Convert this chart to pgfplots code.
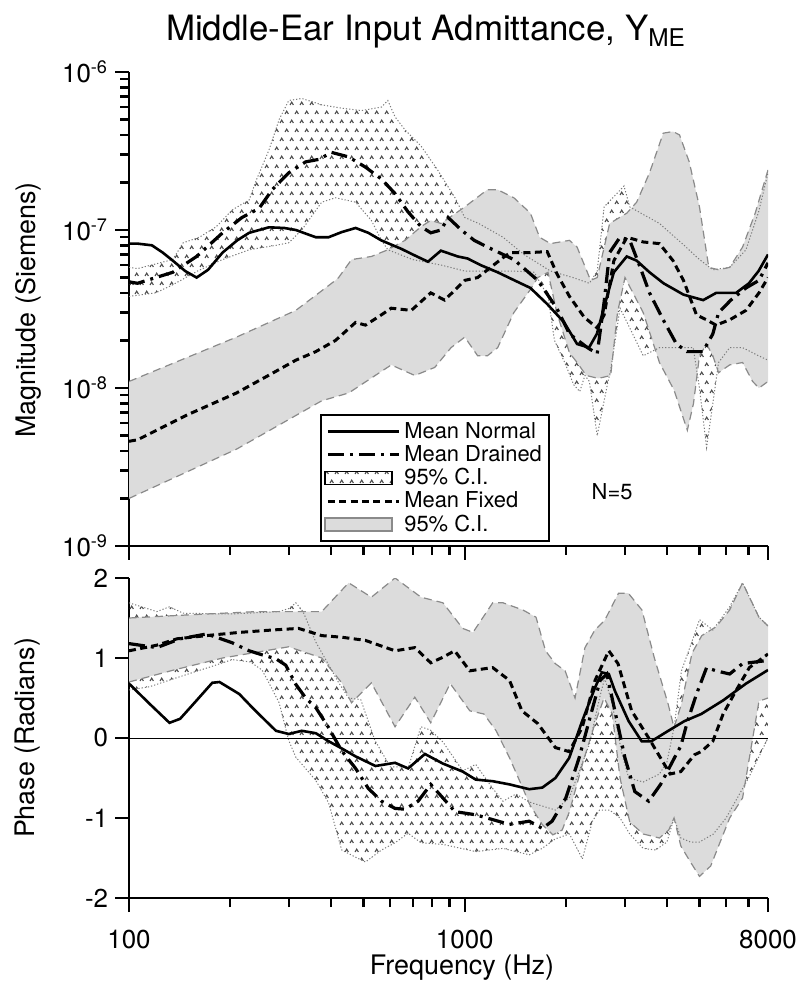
\documentclass[border=0pt]{standalone}
\usepackage{fontspec}
\setmainfont{TeX Gyre Heros}
\usepackage{pgfplots}
\pgfplotsset{compat=1.18}
\usepackage{pgfplotstable}
\usepgfplotslibrary{fillbetween}
\usetikzlibrary{patterns}

\definecolor{graybg}{HTML}{DCDCDC}
\definecolor{grayedge}{HTML}{8A8A8A}
\definecolor{dotedge}{HTML}{7A7A7A}

\pgfdeclarepatternformonly{carets}{\pgfqpoint{-0.5bp}{-0.5bp}}{\pgfqpoint{5.5bp}{9.5bp}}{\pgfqpoint{5bp}{9bp}}{%
  \pgfsetlinewidth{0.55bp}%
  \pgfpathmoveto{\pgfqpoint{0bp}{0bp}}\pgfpathlineto{\pgfqpoint{0.85bp}{1.4bp}}\pgfpathlineto{\pgfqpoint{1.7bp}{0bp}}%
  \pgfpathmoveto{\pgfqpoint{2.5bp}{4.5bp}}\pgfpathlineto{\pgfqpoint{3.35bp}{5.9bp}}\pgfpathlineto{\pgfqpoint{4.2bp}{4.5bp}}%
  \pgfusepath{stroke}%
}

\tikzset{
  meanN/.style={black, line width=1.3bp, solid},
  meanD/.style={black, line width=1.6bp, dash pattern=on 8bp off 3bp on 1.5bp off 3bp},
  meanF/.style={black, line width=1.5bp, dash pattern=on 3.5bp off 2.2bp},
  grayline/.style={grayedge, line width=0.6bp, dash pattern=on 4bp off 2.5bp},
  dotline/.style={dotedge, line width=0.5bp, dash pattern=on 0.6bp off 1bp},
}

% ---------- magnitude data ----------
\pgfplotstableread{
x y
100 8.2e-8
106 8.2e-8
117 8.0e-8
126 7.2e-8
135 6.4e-8
147 5.5e-8
159 5.0e-8
172 5.6e-8
190 7.2e-8
210 8.6e-8
228 9.6e-8
261 1.04e-7
290 1.03e-7
314 1.0e-7
340 9.4e-8
360 9.0e-8
393 9.0e-8
430 9.7e-8
473 1.03e-7
516 9.6e-8
564 8.6e-8
647 7.6e-8
700 7.0e-8
777 6.3e-8
849 7.4e-8
953 6.8e-8
1020 6.6e-8
1114 6.0e-8
1253 5.4e-8
1406 4.8e-8
1568 4.3e-8
1760 3.4e-8
1977 2.6e-8
2160 1.9e-8
2344 1.8e-8
2474 2.2e-8
2594 3.2e-8
2779 5.4e-8
3037 6.8e-8
3250 6.4e-8
3550 5.4e-8
3908 4.6e-8
4480 3.9e-8
5130 3.6e-8
5608 4.0e-8
6430 4.0e-8
7020 4.6e-8
7500 5.5e-8
8000 7.0e-8
}\magN

\pgfplotstableread{
x y
100 4.7e-8
106 4.6e-8
135 5.4e-8
159 6.8e-8
190 9.6e-8
217 1.2e-7
244 1.37e-7
267 1.8e-7
299 2.3e-7
336 2.7e-7
368 2.8e-7
401 3.1e-7
451 2.9e-7
506 2.5e-7
565 2.1e-7
620 1.7e-7
678 1.3e-7
741 1.05e-7
792 9.6e-8
850 1.0e-7
892 1.2e-7
977 1.0e-7
1067 8.6e-8
1168 7.8e-8
1400 6.5e-8
1650 4.8e-8
1880 3.2e-8
2050 2.2e-8
2320 1.8e-8
2480 1.65e-8
2600 3.5e-8
2700 7.2e-8
2900 9.0e-8
3100 8.6e-8
3330 5.8e-8
3550 4.0e-8
3900 2.7e-8
4270 1.9e-8
4590 1.7e-8
5120 1.7e-8
5480 2.2e-8
5700 3.0e-8
6200 3.6e-8
6880 4.3e-8
7520 4.8e-8
8000 6.2e-8
}\magD

\pgfplotstableread{
x y
100 4.6e-9
106 4.7e-9
150 6.8e-9
209 9.3e-9
260 1.2e-8
314 1.5e-8
360 1.7e-8
412 2.0e-8
473 2.6e-8
506 2.5e-8
550 2.8e-8
604 3.2e-8
693 3.1e-8
792 4.0e-8
871 3.6e-8
1000 4.8e-8
1092 5.0e-8
1194 5.8e-8
1314 6.8e-8
1370 7.2e-8
1568 7.2e-8
1760 7.3e-8
1880 5.3e-8
2050 3.8e-8
2270 2.8e-8
2480 2.4e-8
2600 2.9e-8
2780 6.4e-8
3040 9.0e-8
3400 8.4e-8
3800 8.2e-8
4170 6.4e-8
4480 4.8e-8
4900 2.9e-8
5250 2.7e-8
5600 2.5e-8
6150 2.7e-8
6880 3.1e-8
7520 4.0e-8
8000 5.0e-8
}\magF

\pgfplotstableread{
x y
100 5.8e-8
106 5.7e-8
135 6.5e-8
145 8.3e-8
162 9.0e-8
182 1.05e-7
203 1.34e-7
228 1.55e-7
239 2.05e-7
261 3.2e-7
280 5.0e-7
299 6.6e-7
327 6.8e-7
375 6.2e-7
430 5.9e-7
493 5.7e-7
565 6.0e-7
590 6.6e-7
620 5.2e-7
664 4.3e-7
741 3.4e-7
830 2.4e-7
935 1.6e-7
1000 1.2e-7
1100 1.1e-7
1300 9e-8
1500 7e-8
1800 5.5e-8
2100 5.0e-8
2350 4.6e-8
2480 5.5e-8
2600 1.4e-7
2980 1.9e-7
3100 1.4e-7
3300 1.3e-7
3800 1.1e-7
4500 8e-8
5000 6.5e-8
5480 5.6e-8
6150 5.8e-8
6880 7.5e-8
7500 1.3e-7
8000 2.3e-7
}\magDU

\pgfplotstableread{
x y
100 3.8e-8
120 4.0e-8
135 4.5e-8
160 5.5e-8
190 6.5e-8
228 7.5e-8
274 8.0e-8
299 8.3e-8
327 1.0e-7
375 1.5e-7
412 1.6e-7
473 1.5e-7
527 1.15e-7
565 8.6e-8
590 7.5e-8
700 6.5e-8
850 6e-8
1000 5.5e-8
1200 5.5e-8
1400 5.5e-8
1610 5.4e-8
1770 3.8e-8
1850 2.0e-8
1985 1.45e-8
2110 1.05e-8
2200 9.5e-9
2280 1.2e-8
2350 1.1e-8
2480 5.0e-9
2670 1.1e-8
2720 1.3e-8
2900 3.2e-8
3100 2.4e-8
3400 1.6e-8
3800 1.8e-8
4300 1.8e-8
4790 1.8e-8
5000 1.0e-8
5250 4.2e-9
5480 8e-9
5700 1.45e-8
6150 1.8e-8
6720 1.8e-8
7500 1.6e-8
8000 1.5e-8
}\magDL

\pgfplotstableread{
x y
100 1.1e-8
209 2.1e-8
314 3.1e-8
412 4.8e-8
421 5.0e-8
460 6.5e-8
527 6.8e-8
590 7.5e-8
664 8.6e-8
741 1.05e-7
792 1.15e-7
850 1.1e-7
1000 1.4e-7
1168 1.8e-7
1253 1.8e-7
1400 1.6e-7
1568 1.28e-7
1670 9e-8
1800 8.2e-8
2050 8.6e-8
2160 7.8e-8
2370 4.8e-8
2480 5.0e-8
2700 1.1e-7
3040 1.28e-7
3250 1.5e-7
3550 2.3e-7
3900 4.1e-7
4170 4.2e-7
4360 4.0e-7
4660 2.7e-7
5000 1.4e-7
5330 5.8e-8
5700 5.6e-8
6150 5.8e-8
6720 7.8e-8
7330 1.28e-7
8000 2.4e-7
}\magFU

\pgfplotstableread{
x y
100 2.0e-9
209 4.1e-9
375 8.3e-9
451 9.3e-9
604 1.4e-8
710 1.2e-8
814 1.35e-8
910 1.8e-8
1000 2.1e-8
1092 1.6e-8
1168 1.6e-8
1253 1.8e-8
1400 3.0e-8
1568 4.2e-8
1650 5.0e-8
1770 5.4e-8
1880 3.0e-8
2050 1.67e-8
2160 1.45e-8
2300 1.2e-8
2500 1.15e-8
2720 1.2e-8
2850 3.0e-8
3000 5.0e-8
3400 3.0e-8
3800 1.45e-8
4200 9.7e-9
4600 5.4e-9
4800 8e-9
5000 1.6e-8
5250 1.9e-8
5480 1.6e-8
5700 1.25e-8
6150 1.4e-8
6720 1.45e-8
7200 1.1e-8
7520 1.0e-8
8000 1.1e-8
}\magFL

% ---------- phase data ----------
\pgfplotstableread{
x y
100 0.68
115 0.43
132 0.19
142 0.24
159 0.47
177 0.69
186 0.70
213 0.55
233 0.38
256 0.21
274 0.09
299 0.05
327 0.09
360 0.06
393 -0.04
430 -0.13
473 -0.23
542 -0.35
620 -0.31
678 -0.38
761 -0.20
861 -0.32
986 -0.42
1078 -0.52
1211 -0.54
1359 -0.58
1556 -0.64
1702 -0.62
1862 -0.50
2046 -0.25
2236 0.21
2443 0.63
2560 0.82
2685 0.80
2799 0.59
3077 0.21
3363 -0.04
3597 -0.04
4038 0.09
4505 0.21
5061 0.30
5880 0.47
6880 0.68
8000 0.85
}\phN

\pgfplotstableread{
x y
100 1.18
121 1.13
142 1.24
170 1.30
182 1.26
203 1.19
228 1.09
249 1.04
274 0.99
293 0.91
314 0.67
336 0.50
360 0.38
393 0.13
430 -0.16
473 -0.38
516 -0.63
565 -0.79
620 -0.88
664 -0.89
726 -0.79
792 -0.58
861 -0.75
935 -0.92
1078 -0.96
1359 -1.08
1556 -1.04
1702 -1.13
1820 -1.04
2000 -0.75
2190 -0.25
2390 0.34
2530 0.72
2650 0.80
2799 0.34
3000 -0.25
3210 -0.67
3530 -0.79
3830 -0.58
4209 -0.25
4400 -0.10
4600 0.20
4900 0.55
5250 0.88
5600 0.84
6150 0.80
6720 0.93
8000 0.97
}\phD

\pgfplotstableread{
x y
100 1.09
121 1.16
139 1.24
170 1.28
213 1.32
267 1.35
320 1.37
375 1.28
430 1.26
506 1.22
620 1.09
710 1.13
792 0.94
861 1.01
933 1.09
1035 0.84
1211 0.88
1359 0.72
1480 0.34
1650 0.18
1862 -0.12
2046 -0.17
2236 0.13
2443 0.72
2685 1.09
2860 0.93
3140 0.34
3530 0.00
3830 -0.25
4090 -0.45
4400 -0.42
4830 -0.21
5061 -0.17
5480 -0.04
5880 0.30
6420 0.59
7040 0.88
8000 1.05
}\phF

\pgfplotstableread{
x y
100 1.69
121 1.58
132 1.64
145 1.56
200 1.55
280 1.58
300 1.62
314 1.69
330 1.58
360 1.20
420 0.70
451 0.50
490 0.48
540 -0.03
600 -0.36
680 -0.36
740 0.14
790 0.10
861 -0.05
986 -0.41
1078 -0.33
1211 -0.63
1300 -0.79
1420 -0.70
1556 -0.80
1700 -0.85
1862 -0.90
2046 -0.75
2350 -0.08
2520 0.50
2610 0.75
2740 0.45
2940 -0.20
3077 -0.50
3400 -0.55
3800 -0.45
4000 -0.30
4200 0.13
4420 0.84
4800 1.26
5000 1.48
5480 1.35
6150 1.64
6720 1.94
7520 1.51
8000 1.40
}\phDU

\pgfplotstableread{
x y
100 0.60
115 0.64
150 0.80
175 0.89
203 0.98
230 0.95
249 0.85
261 0.69
280 0.44
299 -0.03
314 -0.24
360 -0.53
393 -0.81
430 -1.40
473 -1.49
506 -1.55
565 -1.40
620 -1.31
678 -1.19
741 -1.31
861 -1.33
1078 -1.42
1300 -1.38
1556 -1.46
1700 -1.38
1862 -1.26
2050 -1.20
2240 -1.51
2400 -1.04
2520 -0.90
2700 -0.90
2900 -1.00
3100 -1.20
3400 -1.38
3700 -1.40
4000 -1.30
4200 -1.00
4400 -1.25
4700 -1.30
5000 -1.30
5500 -1.20
6000 -1.00
7000 -0.50
8000 0.00
}\phDL

\pgfplotstableread{
x y
100 1.50
152 1.54
239 1.58
375 1.58
451 1.94
527 1.76
620 2.0
741 1.76
861 1.69
986 1.37
1058 1.32
1211 1.69
1300 1.69
1490 1.60
1630 1.51
1740 1.09
1860 0.93
1990 0.84
2130 0.50
2280 1.13
2440 1.35
2610 1.47
2870 1.81
3070 1.81
3370 1.60
3670 1.00
4030 0.43
4200 0.13
4420 0.43
4750 1.06
5080 1.28
5600 1.39
6150 1.60
6720 1.94
7520 1.51
8000 1.40
}\phFU

\pgfplotstableread{
x y
100 0.70
136 0.85
190 1.00
299 1.14
375 1.00
430 0.69
460 0.44
527 0.69
620 0.14
710 0.51
792 0.19
905 0.68
1035 0.34
1140 0.30
1240 0.09
1360 -0.25
1490 -0.63
1560 -0.83
1700 -1.08
1830 -1.21
1950 -1.15
2050 -0.92
2250 -0.30
2450 0.20
2600 0.50
2750 0.30
2900 -0.50
3100 -1.05
3400 -1.20
3800 -1.25
4050 -1.15
4200 -1.00
4400 -1.35
4700 -1.55
5000 -1.73
5400 -1.60
6150 -1.00
6720 -0.75
7520 0.46
8000 0.50
}\phFL

\begin{document}
\begin{tikzpicture}

% ================= TOP PANEL =================
\begin{axis}[
  scale only axis, width=319.5bp, height=237bp,
  at={(64.5bp,-36bp)}, anchor=north west,
  xmode=log, ymode=log, xmin=100, xmax=8000, ymin=1e-9, ymax=1e-6,
  axis x line*=bottom, axis y line*=left,
  axis line style={line width=1.2bp},
  tick style={line width=1.2bp, black},
  tick align=outside, major tick length=7bp, minor tick length=4.5bp,
  xtick={100,1000,8000}, xticklabels={,,},
  minor xtick={200,300,400,500,600,700,800,900,2000,3000,4000,5000,6000,7000},
  ytick={1e-9,1e-8,1e-7,1e-6},
  yticklabels={10\textsuperscript{-9},10\textsuperscript{-8},10\textsuperscript{-7},10\textsuperscript{-6}},
  minor ytick={2e-9,3e-9,4e-9,5e-9,6e-9,7e-9,8e-9,9e-9,2e-8,3e-8,4e-8,5e-8,6e-8,7e-8,8e-8,9e-8,2e-7,3e-7,4e-7,5e-7,6e-7,7e-7,8e-7,9e-7},
  tick label style={font=\fontsize{13}{13}\selectfont},
  legend style={at={(axis description cs:0.299,0.008)}, anchor=south west,
    draw=black, line width=0.9bp, fill=white,
    font=\fontsize{11}{11}\selectfont, legend cell align=left,
    inner xsep=1.5bp, inner ysep=1.5bp, row sep=-1.9bp},
  legend image code/.code={\draw[#1] (0bp,0bp) -- (35.5bp,0bp);},
]
\addlegendimage{meanN}
\addlegendentry{Mean Normal}
\addlegendimage{meanD}
\addlegendentry{Mean Drained}
\addlegendimage{legend image code/.code={\draw[black, line width=0.8bp, pattern=carets, pattern color=black!70] (-1.5bp,-3.2bp) rectangle (32bp,3.2bp);}}
\addlegendentry{95\% C.I.}
\addlegendimage{meanF}
\addlegendentry{Mean Fixed}
\addlegendimage{legend image code/.code={\draw[grayedge, line width=0.8bp, fill=graybg] (-1.5bp,-3.2bp) rectangle (32bp,3.2bp);}}
\addlegendentry{95\% C.I.}

\addplot[draw=none, name path=mDU, forget plot] table {\magDU};
\addplot[draw=none, name path=mDL, forget plot] table {\magDL};
\addplot[pattern=carets, pattern color=black!70, draw=none, forget plot] fill between[of=mDU and mDL];
\addplot[dotline, forget plot] table {\magDU};
\addplot[dotline, forget plot] table {\magDL};
\addplot[draw=none, name path=mFU, forget plot] table {\magFU};
\addplot[draw=none, name path=mFL, forget plot] table {\magFL};
\addplot[fill=graybg, draw=none, forget plot] fill between[of=mFU and mFL];
\addplot[grayline, forget plot] table {\magFU};
\addplot[grayline, forget plot] table {\magFL};
\addplot[meanF, forget plot] table {\magF};
\addplot[meanD, forget plot] table {\magD};
\addplot[meanN, forget plot] table {\magN};
\node[font=\fontsize{11}{11}\selectfont] at (axis description cs:0.756,0.114) {N=5};
\end{axis}

% ================= BOTTOM PANEL =================
\begin{axis}[
  scale only axis, width=319.5bp, height=160bp,
  at={(64.5bp,-289bp)}, anchor=north west,
  xmode=log, xmin=100, xmax=8000, ymin=-2, ymax=2,
  axis x line*=bottom, axis y line*=left,
  axis line style={line width=1.2bp},
  tick style={line width=1.2bp, black},
  tick align=outside, major tick length=7bp, minor tick length=4.5bp,
  xtick={100,1000,8000}, xticklabels={100,1000,8000},
  minor xtick={200,300,400,500,600,700,800,900,2000,3000,4000,5000,6000,7000},
  ytick={-2,-1,0,1,2}, yticklabels={-2,-1,0,1,2},
  tick label style={font=\fontsize{13}{13}\selectfont},
  xticklabel style={yshift=-5.5bp},
]
\addplot[draw=none, name path=pDU, forget plot] table {\phDU};
\addplot[draw=none, name path=pDL, forget plot] table {\phDL};
\addplot[pattern=carets, pattern color=black!70, draw=none, forget plot] fill between[of=pDU and pDL];
\addplot[dotline, forget plot] table {\phDU};
\addplot[dotline, forget plot] table {\phDL};
\addplot[draw=none, name path=pFU, forget plot] table {\phFU};
\addplot[draw=none, name path=pFL, forget plot] table {\phFL};
\addplot[fill=graybg, draw=none, forget plot] fill between[of=pFU and pFL];
\addplot[grayline, forget plot] table {\phFU};
\addplot[grayline, forget plot] table {\phFL};
\addplot[black, line width=0.5bp, forget plot] coordinates {(100,0) (8000,0)};
\addplot[meanF, forget plot] table {\phF};
\addplot[meanD, forget plot] table {\phD};
\addplot[meanN, forget plot] table {\phN};
\end{axis}

\node[font=\fontsize{17.5}{17.5}\selectfont] at (213bp,-16bp) {Middle-Ear Input Admittance, Y\textsubscript{ME}};
\node[rotate=90, font=\fontsize{13.5}{13.5}\selectfont] at (14bp,-155bp) {Magnitude (Siemens)};
\node[rotate=90, font=\fontsize{13.5}{13.5}\selectfont] at (14bp,-369bp) {Phase (Radians)};
\node[font=\fontsize{13.5}{13.5}\selectfont] at (231bp,-484bp) {Frequency (Hz)};
\pgfresetboundingbox
\useasboundingbox (0,0) rectangle (400bp,-493.5bp);
\end{tikzpicture}
\end{document}
